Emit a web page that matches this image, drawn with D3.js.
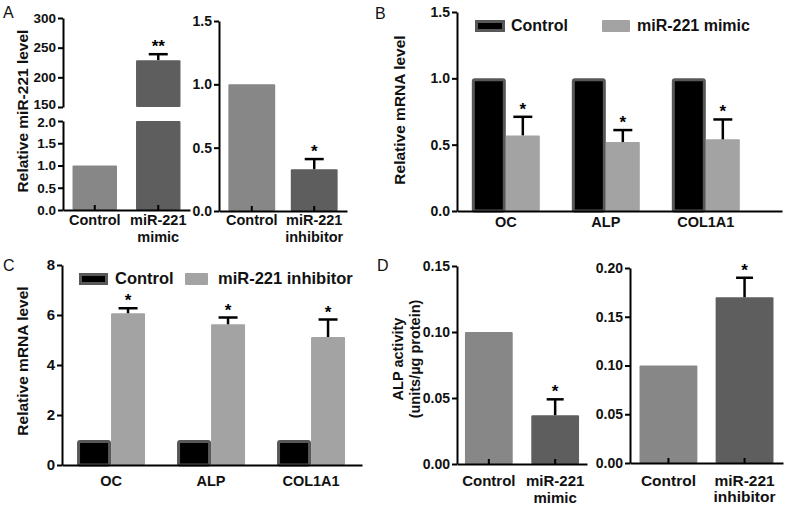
<!DOCTYPE html>
<html><head><meta charset="utf-8">
<script src="https://cdn.jsdelivr.net/npm/d3@7"></script>
<style>
body{margin:0;background:#fff;}
svg{display:block;}
text{font-family:"Liberation Sans",Arial,sans-serif;}
</style></head><body>
<svg id="chart" width="792" height="507"></svg>
<script>
// ---------------- DATA ----------------
const aMimicCats = [["Control"], ["miR-221", "mimic"]];
const aMimicValues = [1.0, 229];
const aMimicErr = [0, 10];
const aMimicStars = ["", "**"];
const aLowerTicks = [0, 0.5, 1.0, 1.5, 2.0];
const aUpperTicks = [150, 200, 250, 300];

const aInhCats = [["Control"], ["miR-221", "inhibitor"]];
const aInhValues = [1.0, 0.33];
const aInhErr = [0, 0.08];
const aInhStars = ["", "*"];
const aInhTicks = [0, 0.5, 1.0, 1.5];

const genes = ["OC", "ALP", "COL1A1"];
const bControl = [1.0, 1.0, 1.0];
const bMimic = [0.57, 0.52, 0.54];
const bMimicErr = [0.14, 0.09, 0.15];
const bTicks = [0, 0.5, 1.0, 1.5];
const bLegend = ["Control", "miR-221 mimic"];

const cControl = [1.0, 1.0, 1.0];
const cInhibitor = [6.07, 5.63, 5.12];
const cInhibitorErr = [0.2, 0.27, 0.7];
const cTicks = [0, 2, 4, 6, 8];
const cLegend = ["Control", "miR-221 inhibitor"];

const dMimicCats = [["Control"], ["miR-221", "mimic"]];
const dMimicValues = [0.10, 0.037];
const dMimicErr = [0, 0.012];
const dMimicStars = ["", "*"];
const dMimicTicks = [0, 0.05, 0.10, 0.15];

const dInhCats = [["Control"], ["miR-221", "inhibitor"]];
const dInhValues = [0.10, 0.17];
const dInhErr = [0, 0.02];
const dInhStars = ["", "*"];
const dInhTicks = [0, 0.05, 0.10, 0.15, 0.20];

// ---------------- STYLE ----------------
const FONT = '"Liberation Sans",Arial,sans-serif';
const GRAY_CTRL = "#878787", GRAY_TRT = "#5e5e5e";
const BLACK_FILL = "#000", BLACK_EDGE = "#585858", LIGHT = "#a3a3a3";

const svg = d3.select("#chart");

function styleAxis(g, fs) {
  g.selectAll("path.domain").attr("stroke", "#000").attr("stroke-width", 2);
  g.selectAll(".tick line").attr("stroke", "#000").attr("stroke-width", 2);
  g.selectAll(".tick text").attr("font-family", FONT).attr("font-weight", "bold")
    .attr("font-size", fs).attr("fill", "#111");
}

function yAxis(x, y, ticks, fmt, fs) {
  const g = svg.append("g").attr("transform", `translate(${x},0)`)
    .call(d3.axisLeft(y).tickValues(ticks).tickFormat(d3.format(fmt)).tickSize(5).tickSizeOuter(0).tickPadding(2));
  styleAxis(g, fs);
  return g;
}

function errBar(cx, yv, ye, capW) {
  svg.append("line").attr("x1", cx).attr("x2", cx).attr("y1", yv).attr("y2", ye)
    .attr("stroke", "#000").attr("stroke-width", 2.5);
  svg.append("line").attr("x1", cx - capW / 2).attr("x2", cx + capW / 2).attr("y1", ye).attr("y2", ye)
    .attr("stroke", "#000").attr("stroke-width", 2.5);
}

function star(cx, ye, s, fs) {
  if (!s) return;
  svg.append("text").attr("x", cx).attr("y", ye - 2).attr("text-anchor", "middle")
    .attr("font-family", FONT).attr("font-weight", "bold").attr("font-size", fs).text(s);
}

function catLabels(x, cats, y0, lh, fs) {
  cats.forEach((lines, i) => {
    const t = svg.append("text").attr("x", x(i) + x.bandwidth() / 2).attr("y", y0)
      .attr("text-anchor", "middle").attr("font-family", FONT).attr("font-weight", "bold")
      .attr("font-size", fs).attr("fill", "#111");
    lines.forEach((l, j) => t.append("tspan").attr("x", x(i) + x.bandwidth() / 2).attr("dy", j ? lh : 0).text(l));
  });
}

function xAxisBottom(x, y0, n) {
  const g = svg.append("g").attr("transform", `translate(0,${y0})`)
    .call(d3.axisBottom(x).tickValues(d3.range(n)).tickFormat(() => "").tickSizeInner(-5).tickSizeOuter(0));
  styleAxis(g, 12);
}

function yTitle(lines, x, cy, fs, lh) {
  lines.forEach((l, j) => {
    svg.append("text").attr("transform", `translate(${x + j * lh},${cy}) rotate(-90)`)
      .attr("text-anchor", "middle").attr("font-family", FONT).attr("font-weight", "bold")
      .attr("font-size", fs).attr("fill", "#111").text(l);
  });
}

function panelLetter(s, x, y) {
  svg.append("text").attr("x", x).attr("y", y).attr("font-family", FONT)
    .attr("font-size", 16).attr("fill", "#111").text(s);
}

// ---------------- PANEL A (left, broken axis) ----------------
(function () {
  const x = d3.scaleBand().domain(d3.range(2)).range([63, 190]).paddingInner(0.3).paddingOuter(0.15);
  const yLo = d3.scaleLinear().domain([0, 2]).range([210, 121]);
  const yHi = d3.scaleLinear().domain([150, 300]).range([107, 18]);
  const colors = [GRAY_CTRL, GRAY_TRT];
  aMimicValues.forEach((v, i) => {
    if (v <= 2) {
      svg.append("rect").attr("x", x(i)).attr("width", x.bandwidth()).attr("y", yLo(v))
        .attr("height", yLo(0) - yLo(v)).attr("fill", colors[i]).attr("rx", 1);
    } else {
      svg.append("rect").attr("x", x(i)).attr("width", x.bandwidth()).attr("y", yLo(2))
        .attr("height", yLo(0) - yLo(2)).attr("fill", colors[i]).attr("rx", 1);
      svg.append("rect").attr("x", x(i)).attr("width", x.bandwidth()).attr("y", yHi(v))
        .attr("height", yHi(150) - yHi(v)).attr("fill", colors[i]).attr("rx", 1);
      const cx = x(i) + x.bandwidth() / 2;
      errBar(cx, yHi(v), yHi(v + aMimicErr[i]), 19);
      star(cx, yHi(v + aMimicErr[i]), aMimicStars[i], 17);
    }
  });
  const gLo = yAxis(63, yLo, aLowerTicks, ".1f", 13.5);
  const gHi = yAxis(63, yHi, aUpperTicks, "d", 13.5);
  // nudge the two labels next to the axis break apart slightly
  gHi.selectAll(".tick text").filter(d => d === 150).attr("dy", "0.1em");
  gLo.selectAll(".tick text").filter(d => d === 2).attr("dy", "0.42em");
  xAxisBottom(x, 210, 2);
  catLabels(x, aMimicCats, 225, 17, 14.5);
  yTitle(["Relative miR-221 level"], 28, 111, 15.5, 0);
  panelLetter("A", 3, 18);
})();

// ---------------- SIMPLE TWO-BAR PANELS ----------------
function simplePanel(o) {
  const x = d3.scaleBand().domain(d3.range(o.values.length)).range(o.xr).paddingInner(o.pi).paddingOuter(o.po);
  const y = d3.scaleLinear().domain(o.yd).range(o.yr);
  const colors = [GRAY_CTRL, GRAY_TRT];
  o.values.forEach((v, i) => {
    svg.append("rect").attr("x", x(i)).attr("width", x.bandwidth()).attr("y", y(v))
      .attr("height", y(0) - y(v)).attr("fill", colors[i]).attr("rx", 1);
    const cx = x(i) + x.bandwidth() / 2;
    if (o.err[i] > 0) {
      errBar(cx, y(v), y(v + o.err[i]), o.cap);
      star(cx, y(v + o.err[i]), o.stars[i], 17);
    }
  });
  yAxis(o.xr[0], y, o.ticks, o.fmt, o.tfs);
  xAxisBottom(x, o.yr[0], o.values.length);
  catLabels(x, o.cats, o.labY, o.lh, o.cfs);
}

simplePanel({values: aInhValues, err: aInhErr, stars: aInhStars, cats: aInhCats, ticks: aInhTicks,
  xr: [219, 347], pi: 0.25, po: 0.15, yd: [0, 1.5], yr: [211, 21], fmt: ".1f", tfs: 14,
  cap: 19, labY: 225, lh: 17, cfs: 14.5});

// ---------------- GROUPED PANELS (B, C) ----------------
function groupedPanel(o) {
  const x0 = d3.scaleBand().domain(d3.range(genes.length)).range(o.xr)
    .paddingInner(0.32).paddingOuter(o.po).align(o.align);
  const x1 = d3.scaleBand().domain([0, 1]).range([0, x0.bandwidth()]);
  const y = d3.scaleLinear().domain(o.yd).range(o.yr);
  genes.forEach((gname, i) => {
    const gx = x0(i);
    const v0 = o.ctrl[i];
    svg.append("rect").attr("x", gx + x1(0) + 1.5).attr("width", x1.bandwidth() - 3)
      .attr("y", y(v0) + 1.5).attr("height", y(0) - y(v0) - 1.5)
      .attr("fill", BLACK_FILL).attr("stroke", BLACK_EDGE).attr("stroke-width", 3).attr("rx", 1.5);
    const v1 = o.trt[i];
    svg.append("rect").attr("x", gx + x1(1)).attr("width", x1.bandwidth())
      .attr("y", y(v1)).attr("height", y(0) - y(v1)).attr("fill", LIGHT).attr("rx", 1);
    const cx = gx + x1(1) + x1.bandwidth() / 2;
    const ye = y(v1 + o.err[i]);
    errBar(cx, y(v1), ye, 19);
    star(cx, ye, "*", 17);
    svg.append("text").attr("x", gx + x0.bandwidth() / 2).attr("y", o.labY).attr("text-anchor", "middle")
      .attr("font-family", FONT).attr("font-weight", "bold").attr("font-size", 14.5).attr("fill", "#111").text(gname);
  });
  yAxis(o.xr[0], y, o.ticks, o.fmt, o.tfs);
  const g = svg.append("g").attr("transform", `translate(0,${o.yr[0]})`)
    .call(d3.axisBottom(x0).tickValues([]).tickSizeOuter(0));
  styleAxis(g, 12);
  const L = o.leg;
  svg.append("rect").attr("x", L.x0 + 1.5).attr("y", L.y + 1.5).attr("width", L.w0 - 3).attr("height", L.h - 3)
    .attr("fill", BLACK_FILL).attr("stroke", BLACK_EDGE).attr("stroke-width", 3);
  svg.append("text").attr("x", L.t0).attr("y", L.y + L.h - 1).attr("font-family", FONT).attr("font-weight", "bold")
    .attr("font-size", L.fs).attr("fill", "#111").text(o.legend[0]);
  svg.append("rect").attr("x", L.x1).attr("y", L.y).attr("width", L.w1).attr("height", L.h).attr("fill", LIGHT).attr("rx", 1);
  svg.append("text").attr("x", L.t1).attr("y", L.y + L.h - 1).attr("font-family", FONT).attr("font-weight", "bold")
    .attr("font-size", L.fs).attr("fill", "#111").text(o.legend[1]);
}

groupedPanel({ctrl: bControl, trt: bMimic, err: bMimicErr, ticks: bTicks, legend: bLegend,
  xr: [457, 782], po: 0.285, align: 0.26, yd: [0, 1.5], yr: [211, 12], fmt: ".1f", tfs: 14, labY: 227,
  leg: {x0: 475, w0: 30, x1: 602, w1: 28, y: 20, h: 12, t0: 511, t1: 637, fs: 16}});
yTitle(["Relative mRNA level"], 405, 110, 15.5, 0);
panelLetter("B", 375, 19);

groupedPanel({ctrl: cControl, trt: cInhibitor, err: cInhibitorErr, ticks: cTicks, legend: cLegend,
  xr: [62, 362], po: 0.16, align: 0.47, yd: [0, 8], yr: [465, 265], fmt: "d", tfs: 15, labY: 486,
  leg: {x0: 79, w0: 29, x1: 185, w1: 23, y: 273, h: 12, t0: 115, t1: 218, fs: 16.5}});
yTitle(["Relative mRNA level"], 28, 361, 15.5, 0);
panelLetter("C", 3, 271);

// ---------------- PANEL D ----------------
simplePanel({values: dMimicValues, err: dMimicErr, stars: dMimicStars, cats: dMimicCats, ticks: dMimicTicks,
  xr: [457, 587], pi: 0.28, po: 0.12, yd: [0, 0.15], yr: [464, 266], fmt: ".2f", tfs: 14,
  cap: 17, labY: 486, lh: 17, cfs: 15});
yTitle(["ALP activity", "(units/\u00b5g protein)"], 403, 359, 14.5, 17);
panelLetter("D", 377, 271);

simplePanel({values: dInhValues, err: dInhErr, stars: dInhStars, cats: dInhCats, ticks: dInhTicks,
  xr: [630, 783], pi: 0.24, po: 0.125, yd: [0, 0.20], yr: [463, 268], fmt: ".2f", tfs: 14,
  cap: 17, labY: 486, lh: 16, cfs: 15.5});
</script></body></html>
